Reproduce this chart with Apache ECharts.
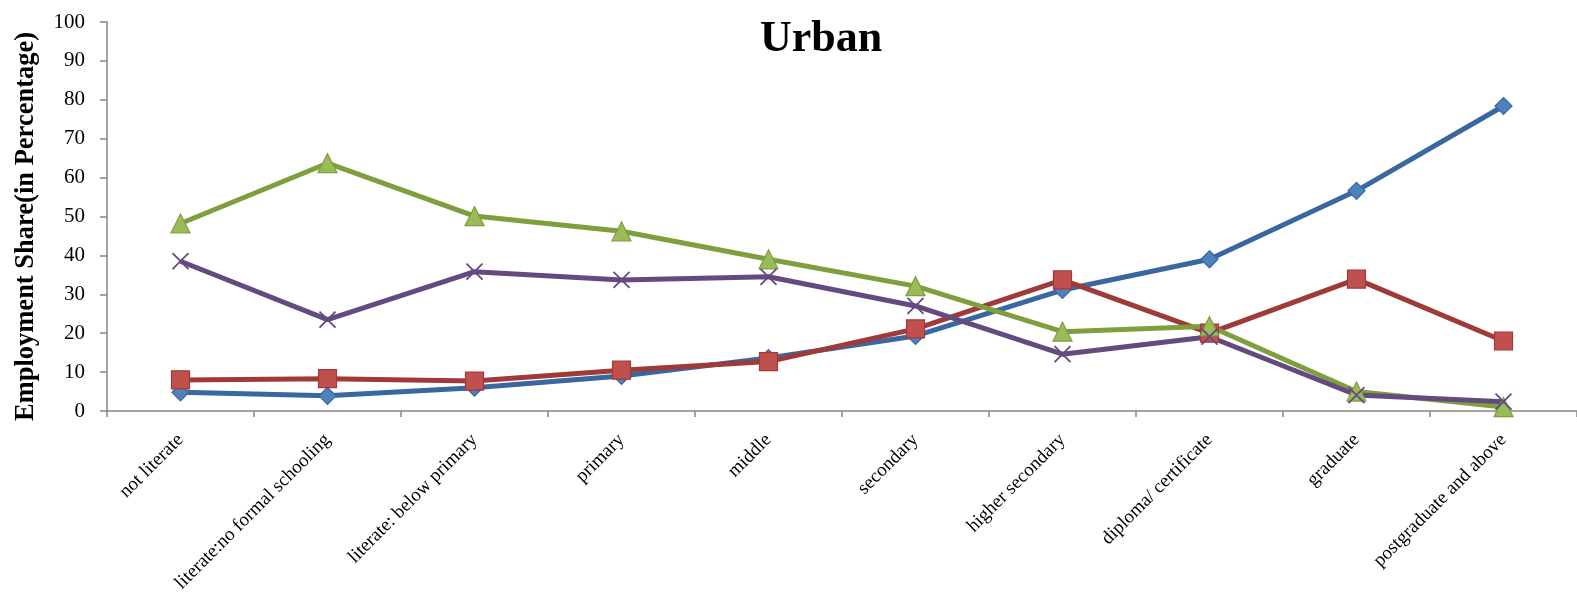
<!DOCTYPE html>
<html><head><meta charset="utf-8">
<script src="https://cdn.jsdelivr.net/npm/echarts@6/dist/echarts.min.js"></script>
<style>html,body{margin:0;padding:0;background:#fff}#c{width:1577px;height:593px}</style>
</head><body><div id="c"></div>
<script>
const categories = ["not literate","literate:no formal schooling","literate: below primary","primary","middle","secondary","higher secondary","diploma/ certificate","graduate","postgraduate and above"];
const seriesBlue   = [4.8, 3.9, 6.0, 9.0, 13.6, 19.3, 31.1, 39.0, 56.6, 78.4];
const seriesRed    = [8.0, 8.3, 7.7, 10.5, 12.7, 21.1, 33.7, 20.0, 33.9, 18.0];
const seriesGreen  = [48.2, 63.7, 50.1, 46.2, 39.0, 32.1, 20.4, 21.8, 5.0, 1.0];
const seriesPurple = [38.5, 23.5, 35.8, 33.7, 34.5, 27.0, 14.6, 19.1, 4.1, 2.4];
const yTicks = [0,10,20,30,40,50,60,70,80,90,100];

const font = "'Liberation Serif', 'DejaVu Serif', serif";
const chart = echarts.init(document.getElementById('c'), null, {renderer:'canvas'});
function mk(name, data, lineColor, fill, symbol, size, extra) {
  return Object.assign({
    name, type:'line', data, symbol, symbolSize:size,
    lineStyle:{color:lineColor, width:5},
    itemStyle:{color:fill, borderColor:lineColor, borderWidth:1.2},
    animation:false
  }, extra||{});
}
chart.setOption({
  animation:false,
  title:{text:'Urban', left:816, top:13, textAlign:'center',
    textStyle:{fontFamily:font, fontSize:44, fontWeight:'bold', color:'#000'}},
  grid:{left:107, top:22, right:0, bottom:182, containLabel:false, outerBoundsMode:'none'},
  xAxis:{type:'category', data:categories, boundaryGap:true,
    axisLine:{lineStyle:{color:'#868686', width:1.5}},
    axisTick:{show:true, length:6, lineStyle:{color:'#868686', width:1.5}, alignWithLabel:false},
    axisLabel:{rotate:45, margin:26, fontFamily:font, fontSize:19, color:'#000', interval:0}},
  yAxis:{type:'value', min:0, max:100, interval:10,
    name:'Employment Share(in Percentage)', nameLocation:'middle', nameGap:67,
    nameTextStyle:{fontFamily:font, fontSize:26.5, fontWeight:'bold', color:'#000', padding:[0,20,0,0]},
    axisLine:{show:true, lineStyle:{color:'#868686', width:1.5}},
    axisTick:{show:true, length:7, lineStyle:{color:'#868686', width:1.5}},
    splitLine:{show:false},
    axisLabel:{margin:22, fontFamily:font, fontSize:21, color:'#000',
      formatter:v=>yTicks.includes(v)?String(v):''}},
  series:[
    mk('Blue', seriesBlue, '#3A67A0', '#4F81BD', 'diamond', 17),
    mk('Red', seriesRed, '#A03A38', '#C0504D', 'rect', 18),
    mk('Green', seriesGreen, '#7F9F3F', '#9BBB59', 'triangle', 19),
    mk('Purple', seriesPurple, '#654A80', '#8064A2', 'path://M0,0 L10,10 M10,0 L0,10', 16,
      {itemStyle:{color:'none', borderColor:'#654A80', borderWidth:1.8}})
  ]
});
</script></body></html>
